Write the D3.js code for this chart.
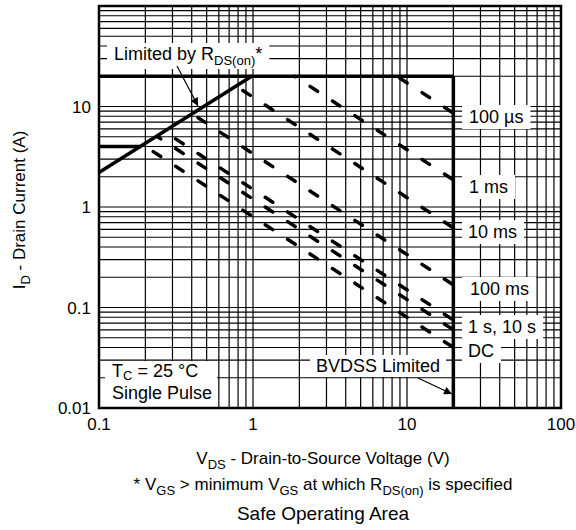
<!DOCTYPE html>
<html>
<head>
<meta charset="utf-8">
<script src="https://cdn.jsdelivr.net/npm/d3@7"></script>
<style>
body { margin: 0; background: #fff; }
svg { display: block; font-family: "Liberation Sans", Arial, sans-serif; }
text { white-space: pre; fill: #000; }
</style>
</head>
<body>
<svg id="chart" width="576" height="530"></svg>
<script>
// axis tick labels
const xTicks = [0.1, 1, 10, 100];
const yTicks = [0.01, 0.1, 1, 10];

// solid boundary lines, [V, A]
const rdsLine = [[0.1, 2.2], [0.98, 20]];
const currentLimit = [[0.1, 20], [20, 20]];
const lowCurrent = [[0.1, 4], [0.186, 4]];
const bvdssLine = [[20, 20], [20, 0.01]];

// pulse lines (dashed): start and end, [V, A]
const pulseNames = ["100 µs", "1 ms", "10 ms", "100 ms", "1 s", "10 s", "DC"];
const pulseStart = [[8.6, 20], [1.86, 20], [0.777, 15.96], [0.402, 8.46], [0.265, 5.65], [0.237, 5.06], [0.2, 4]];
const pulseEnd = [[20, 8.6], [20, 1.86], [20, 0.62], [20, 0.168], [20, 0.075], [20, 0.06], [20, 0.04]];

// labels to the right of the BVDSS line
const pulseLabels = ["100 µs", "1 ms", "10 ms", "100 ms", "1 s, 10 s", "DC"];
const pulseLabelPos = [[469, 123], [469, 193], [468, 238], [470, 295], [468, 333], [468, 357]];

const W = 576, H = 530;
const margin = {top: 6, right: 15, bottom: 122, left: 99};
const FONT = 18, SUB = 13;
const DASH_X0 = 157, DASH_DX = 22.4, DASH_LEN = 9;

const svg = d3.select("#chart");
const x = d3.scaleLog().domain([0.1, 100]).range([margin.left, W - margin.right]);
const y = d3.scaleLog().domain([0.01, 100]).range([H - margin.bottom, margin.top]);

const defs = svg.append("defs");
defs.append("marker").attr("id", "arrow").attr("viewBox", "0 0 10 10").attr("refX", 10).attr("refY", 5)
    .attr("markerWidth", 10).attr("markerHeight", 8).attr("markerUnits", "userSpaceOnUse").attr("orient", "auto")
    .append("path").attr("d", "M0,0 L10,5 L0,10 z").attr("fill", "#000");

const gGrid = svg.append("g");
const gBoxes = svg.append("g");
const gLines = svg.append("g");
const gText = svg.append("g");

// grid
gGrid.selectAll("line.v").data(x.ticks()).join("line").attr("class", "v")
    .attr("x1", d => x(d)).attr("x2", d => x(d)).attr("y1", y.range()[1]).attr("y2", y.range()[0])
    .attr("stroke", "#000").attr("stroke-width", 1.2);
gGrid.selectAll("line.h").data(y.ticks()).join("line").attr("class", "h")
    .attr("y1", d => y(d)).attr("y2", d => y(d)).attr("x1", x.range()[0]).attr("x2", x.range()[1])
    .attr("stroke", "#000").attr("stroke-width", 1.2);

// text with subscript parts
function richText(g, tx, ty, parts, size, anchor, subShift) {
    const t = g.append("text").attr("x", tx).attr("y", ty).attr("font-size", size).attr("text-anchor", anchor || "start");
    const sh = subShift === undefined ? 5 : subShift;
    let shift = 0;
    parts.forEach(p => {
        const s = typeof p === "string" ? p : p[0];
        const k = typeof p === "string" ? "" : p[1];
        const target = k === "sub" ? sh : 0;
        t.append("tspan").attr("dy", target - shift).attr("font-size", k === "sub" ? SUB : size).text(s);
        shift = target;
    });
    return t;
}

function boxUnder(t, padX, padY, opts) {
    const b = t.node().getBBox();
    const o = opts || {};
    const x0 = o.x0 !== undefined ? o.x0 : b.x - padX;
    const x1 = o.x1 !== undefined ? o.x1 : b.x + b.width + padX;
    const y0 = o.y0 !== undefined ? o.y0 : b.y - padY;
    const y1 = o.y1 !== undefined ? o.y1 : b.y + b.height + padY;
    gBoxes.append("rect").attr("x", x0).attr("y", y0).attr("width", x1 - x0).attr("height", y1 - y0).attr("fill", "#fff");
}

// solid lines
const line = d3.line().x(d => x(d[0])).y(d => y(d[1]));
[rdsLine, currentLimit, lowCurrent, bvdssLine].forEach(l => {
    gLines.append("path").attr("d", line(l)).attr("fill", "none").attr("stroke", "#000")
        .attr("stroke-width", 3.5).attr("stroke-linecap", "butt");
});

// dashed pulse lines, dashes lined up on common columns
pulseNames.forEach((name, i) => {
    const a = pulseStart[i], b = pulseEnd[i];
    const x0 = x(a[0]), y0 = y(a[1]), x1 = x(b[0]), y1 = y(b[1]);
    const f = Math.hypot(x1 - x0, y1 - y0) / (x1 - x0);
    const period = DASH_DX * f;
    const k = Math.ceil((x0 - DASH_X0) / DASH_DX);
    const dc = (DASH_X0 + k * DASH_DX - x0) * f;
    let off = (DASH_LEN / 2 - dc) % period;
    if (off < 0) off += period;
    gLines.append("path").attr("d", line([a, b])).attr("fill", "none").attr("stroke", "#000")
        .attr("stroke-width", 3.5).attr("stroke-linecap", "round")
        .attr("stroke-dasharray", `${DASH_LEN},${period - DASH_LEN}`).attr("stroke-dashoffset", off);
});

// frame
svg.append("rect").attr("x", x.range()[0]).attr("y", y.range()[1])
    .attr("width", x.range()[1] - x.range()[0]).attr("height", y.range()[0] - y.range()[1])
    .attr("fill", "none").attr("stroke", "#000").attr("stroke-width", 2.5);

// tick labels
gText.selectAll("text.xt").data(xTicks).join("text").attr("class", "xt")
    .attr("x", d => x(d)).attr("y", 430).attr("text-anchor", "middle").attr("font-size", 17).text(d => d);
gText.selectAll("text.yt").data(yTicks).join("text").attr("class", "yt")
    .attr("x", 91).attr("y", d => y(d) + 6).attr("text-anchor", "end").attr("font-size", 17).text(d => d);

// pulse labels
pulseLabels.forEach((s, i) => {
    const t = gText.append("text").attr("x", pulseLabelPos[i][0]).attr("y", pulseLabelPos[i][1]).attr("font-size", FONT).text(s);
    boxUnder(t, 7, 2, {x0: 462});
});

// Limited by RDS(on)*
const lim = richText(gText, 114, 60, ["Limited by R", ["DS(on)", "sub"], "*"], FONT);
boxUnder(lim, 7, 1);
gText.append("line").attr("x1", 177).attr("y1", 66).attr("x2", 198).attr("y2", 106)
    .attr("stroke", "#000").attr("stroke-width", 1.2).attr("marker-end", "url(#arrow)");

// BVDSS Limited
const bv = gText.append("text").attr("x", 316).attr("y", 372).attr("font-size", FONT).text("BVDSS Limited");
boxUnder(bv, 6, 1);
gText.append("line").attr("x1", 418).attr("y1", 378).attr("x2", 452).attr("y2", 394)
    .attr("stroke", "#000").attr("stroke-width", 1.2).attr("marker-end", "url(#arrow)");

// TC / Single Pulse
const tc1 = richText(gText, 112, 377, ["T", ["C", "sub"], " = 25 °C"], FONT, "start", 3);
const tc2 = gText.append("text").attr("x", 112).attr("y", 399).attr("font-size", FONT).text("Single Pulse");
const b1 = tc1.node().getBBox(), b2 = tc2.node().getBBox();
gBoxes.append("rect").attr("x", 105).attr("y", b1.y)
    .attr("width", Math.max(b1.x + b1.width, b2.x + b2.width) + 5 - 105)
    .attr("height", y.range()[0] - b1.y).attr("fill", "#fff");

// axis titles and captions
richText(svg, 323, 464, ["V", ["DS", "sub"], " - Drain-to-Source Voltage (V)"], 17, "middle");
richText(svg, 323, 490, ["* V", ["GS", "sub"], " > minimum V", ["GS", "sub"], " at which R", ["DS(on)", "sub"], " is specified"], 17, "middle");
svg.append("text").attr("x", 323).attr("y", 520).attr("text-anchor", "middle").attr("font-size", 19).text("Safe Operating Area");

const yl = svg.append("g").attr("transform", "translate(25,210) rotate(-90)");
richText(yl, 0, 0, ["I", ["D", "sub"], " - Drain Current (A)"], 17, "middle");
</script>
</body>
</html>
